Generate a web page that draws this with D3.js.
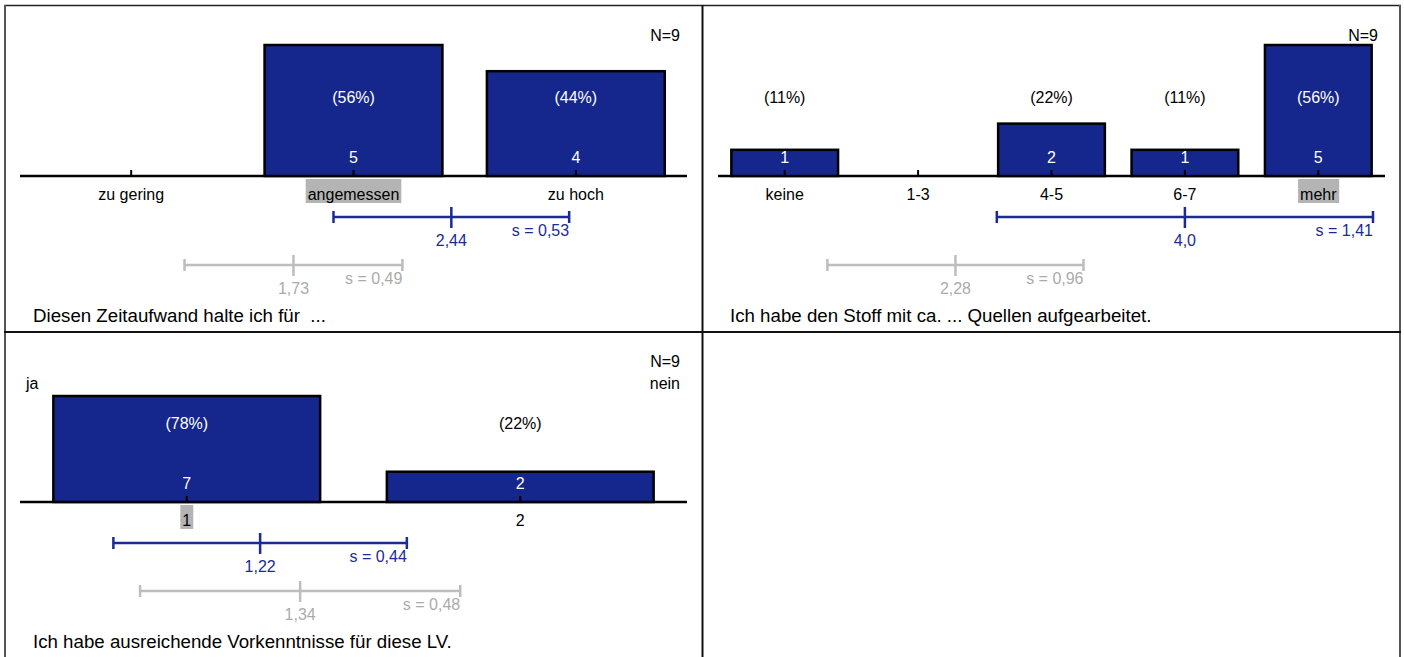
<!DOCTYPE html>
<html><head><meta charset="utf-8">
<script src="https://cdn.jsdelivr.net/npm/d3@7"></script>
<style>
body{margin:0;background:#fff}
svg{display:block}
text{font-family:"Liberation Sans",Arial,sans-serif;white-space:pre}
</style>
</head><body>
<svg id="chart" width="1404" height="657"></svg>
<script>
// ---------- DATA ----------
const q1Question = "Diesen Zeitaufwand halte ich für  ...";
const q1Categories = ["zu gering", "angemessen", "zu hoch"];
const q1Counts = [0, 5, 4];
const q1Percents = [0, 56, 44];
const q1Stats = [2.44, 0.53, 1.73, 0.49];          // mean, sd, comparison mean, comparison sd
const q1StatLabels = ["2,44", "s = 0,53", "1,73", "s = 0,49"];
const q1Median = 1;

const q2Question = "Ich habe den Stoff mit ca. ... Quellen aufgearbeitet.";
const q2Categories = ["keine", "1-3", "4-5", "6-7", "mehr"];
const q2Counts = [1, 0, 2, 1, 5];
const q2Percents = [11, 0, 22, 11, 56];
const q2Stats = [4.0, 1.41, 2.28, 0.96];
const q2StatLabels = ["4,0", "s = 1,41", "2,28", "s = 0,96"];
const q2Median = 4;

const q3Question = "Ich habe ausreichende Vorkenntnisse für diese LV.";
const q3Categories = ["1", "2"];
const q3Counts = [7, 2];
const q3Percents = [78, 22];
const q3Stats = [1.22, 0.44, 1.34, 0.48];
const q3StatLabels = ["1,22", "s = 0,44", "1,34", "s = 0,48"];
const q3Median = 0;
const q3Poles = ["ja", "nein"];

const sampleSize = "N=9";

// ---------- STYLE ----------
const BAR = "#15268c", BLUE = "#1b2b95", GRAY_LINE = "#bdbdbd", GRAY_TEXT = "#ababab", HILITE = "#b4b4b4";
const FS = 16;

const svg = d3.select("#chart");

// frame
const frame = svg.append("g");
frame.append("line").attr("x1", 4).attr("x2", 1401).attr("y1", 5.5).attr("y2", 5.5).attr("stroke", "#222").attr("stroke-width", 1.5);
frame.append("line").attr("x1", 5).attr("x2", 5).attr("y1", 5).attr("y2", 657).attr("stroke", "#555").attr("stroke-width", 2);
frame.append("line").attr("x1", 1400).attr("x2", 1400).attr("y1", 5).attr("y2", 657).attr("stroke", "#555").attr("stroke-width", 2);
frame.append("line").attr("x1", 702.5).attr("x2", 702.5).attr("y1", 5).attr("y2", 657).attr("stroke", "#111").attr("stroke-width", 2);
frame.append("line").attr("x1", 4).attr("x2", 1401).attr("y1", 332).attr("y2", 332).attr("stroke", "#111").attr("stroke-width", 2);

function panel(cfg) {
  const {oy, xRange, barTop, categories, counts, percents, stats, statLabels, median, question, qx, poles} = cfg;
  const baseline = oy + 176;
  const g = svg.append("g");

  const x = d3.scaleBand().domain(d3.range(categories.length)).range(xRange).paddingInner(0.2).paddingOuter(0.1);
  const cx = i => x(i) + x.bandwidth() / 2;
  const y = d3.scaleLinear().domain([0, d3.max(counts)]).range([baseline, barTop]);
  const m = d3.scaleLinear().domain([1, categories.length]).range([cx(0), cx(categories.length - 1)]);

  // axis baseline
  g.append("line").attr("x1", xRange[0]).attr("x2", xRange[1]).attr("y1", baseline).attr("y2", baseline)
    .attr("stroke", "#000").attr("stroke-width", 2.5);

  // bars
  g.selectAll("rect.bar").data(counts).join("rect").attr("class", "bar")
    .attr("x", (d, i) => x(i)).attr("width", x.bandwidth())
    .attr("y", d => y(d)).attr("height", d => baseline - y(d))
    .attr("fill", BAR).attr("stroke", "#000").attr("stroke-width", 2.5);

  // ticks
  g.selectAll("line.tick").data(categories).join("line").attr("class", "tick")
    .attr("x1", (d, i) => cx(i)).attr("x2", (d, i) => cx(i))
    .attr("y1", baseline).attr("y2", baseline - 6)
    .attr("stroke", "#000").attr("stroke-width", 2);

  // percent labels
  const pctY = oy + 97;
  g.selectAll("text.pct").data(percents).join("text").attr("class", "pct")
    .attr("x", (d, i) => cx(i))
    .attr("y", pctY).attr("dy", "0.35em").attr("text-anchor", "middle").attr("font-size", FS)
    .attr("fill", (d, i) => y(counts[i]) < pctY - 10 ? "#fff" : "#000")
    .text(d => d > 0 ? "(" + d + "%)" : "");

  // count labels
  g.selectAll("text.cnt").data(counts).join("text").attr("class", "cnt")
    .attr("x", (d, i) => cx(i)).attr("y", oy + 157).attr("dy", "0.35em")
    .attr("text-anchor", "middle").attr("font-size", FS).attr("fill", "#fff")
    .text(d => d > 0 ? d : "");

  // category labels (with median highlight)
  const cats = g.selectAll("g.cat").data(categories).join("g").attr("class", "cat");
  cats.each(function(d, i) {
    const t = d3.select(this).append("text")
      .attr("x", cx(i)).attr("y", oy + 194).attr("dy", "0.35em")
      .attr("text-anchor", "middle").attr("font-size", FS).attr("fill", "#000").text(d);
    if (i === median) {
      const bb = t.node().getBBox();
      d3.select(this).insert("rect", "text")
        .attr("x", bb.x - 2).attr("width", bb.width + 4)
        .attr("y", baseline + 3).attr("height", 24).attr("fill", HILITE);
    }
  });

  // mean / sd bars
  function meanBar(mean, sd, lineY, color, textColor, meanLabel, sdLabel) {
    const gg = g.append("g");
    gg.append("line").attr("x1", m(mean - sd)).attr("x2", m(mean + sd)).attr("y1", lineY).attr("y2", lineY)
      .attr("stroke", color).attr("stroke-width", 2.5);
    [mean - sd, mean + sd].forEach(v => gg.append("line").attr("x1", m(v)).attr("x2", m(v))
      .attr("y1", lineY - 6).attr("y2", lineY + 6).attr("stroke", color).attr("stroke-width", 2.5));
    gg.append("line").attr("x1", m(mean)).attr("x2", m(mean)).attr("y1", lineY - 10).attr("y2", lineY + 11)
      .attr("stroke", color).attr("stroke-width", 2.5);
    gg.append("text").attr("x", m(mean)).attr("y", lineY + 23).attr("dy", "0.35em").attr("text-anchor", "middle")
      .attr("font-size", FS).attr("fill", textColor).text(meanLabel);
    gg.append("text").attr("x", m(mean + sd)).attr("y", lineY + 13).attr("dy", "0.35em").attr("text-anchor", "end")
      .attr("font-size", FS).attr("fill", textColor).text(sdLabel);
  }
  meanBar(stats[0], stats[1], oy + 217, BLUE, BLUE, statLabels[0], statLabels[1]);
  meanBar(stats[2], stats[3], oy + 265, GRAY_LINE, GRAY_TEXT, statLabels[2], statLabels[3]);

  // N
  g.append("text").attr("x", xRange[1] - 7).attr("y", oy + 35).attr("dy", "0.35em").attr("text-anchor", "end")
    .attr("font-size", FS).attr("fill", "#000").text(sampleSize);

  if (poles) {
    g.append("text").attr("x", 26).attr("y", oy + 57).attr("dy", "0.35em").attr("font-size", FS).text(poles[0]);
    g.append("text").attr("x", xRange[1] - 7).attr("y", oy + 57).attr("dy", "0.35em").attr("text-anchor", "end")
      .attr("font-size", FS).text(poles[1]);
  }

  // question
  g.append("text").attr("x", qx).attr("y", oy + 315).attr("dy", "0.35em").attr("font-size", 18.7)
    .attr("fill", "#000").attr("xml:space", "preserve").text(question);
}

panel({oy: 0, xRange: [20, 687], barTop: 45, categories: q1Categories, counts: q1Counts, percents: q1Percents,
  stats: q1Stats, statLabels: q1StatLabels, median: q1Median, question: q1Question, qx: 33});
panel({oy: 0, xRange: [718, 1385], barTop: 45, categories: q2Categories, counts: q2Counts, percents: q2Percents,
  stats: q2Stats, statLabels: q2StatLabels, median: q2Median, question: q2Question, qx: 730});
panel({oy: 326, xRange: [20, 687], barTop: 396, categories: q3Categories, counts: q3Counts, percents: q3Percents,
  stats: q3Stats, statLabels: q3StatLabels, median: q3Median, question: q3Question, qx: 33, poles: q3Poles});
</script>
</body></html>
